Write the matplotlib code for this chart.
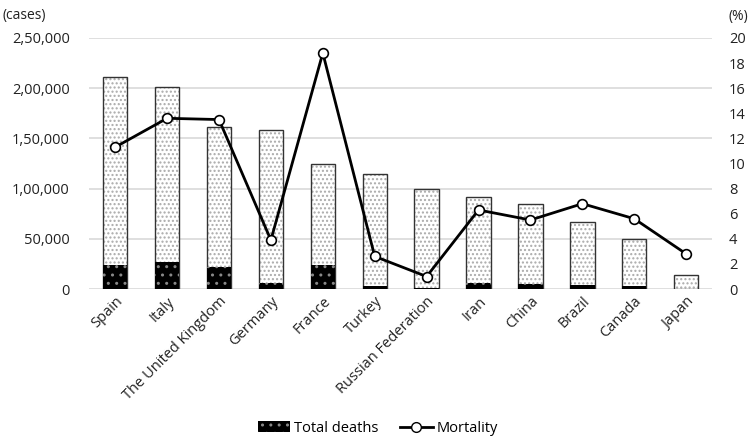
import numpy as np
import matplotlib.pyplot as plt
from matplotlib.ticker import FuncFormatter
from matplotlib.lines import Line2D
from matplotlib.patches import Patch

plt.rcParams["font.family"] = ["Open Sans", "DejaVu Sans"]

countries = ["Spain", "Italy", "The United Kingdom", "Germany", "France", "Turkey",
             "Russian Federation", "Iran", "China", "Brazil", "Canada", "Japan"]
total_cases = [211000, 201500, 161100, 158000, 125000, 115000,
               100000, 92000, 84400, 66600, 49800, 14000]
total_deaths = [24000, 27400, 21800, 6000, 24000, 3000,
                1000, 5900, 4600, 4500, 2700, 400]
mortality = [11.3, 13.6, 13.5, 3.9, 18.8, 2.6, 1.0, 6.3, 5.5, 6.8, 5.6, 2.8]


def indian_fmt(v, pos):
    # lakh-style grouping: 2,50,000
    v = int(round(v))
    if v == 0:
        return "0"
    s = str(v)
    last3 = s[-3:]
    rest = s[:-3]
    parts = []
    while len(rest) > 2:
        parts.insert(0, rest[-2:])
        rest = rest[:-2]
    if rest:
        parts.insert(0, rest)
    return ",".join(parts + [last3])


fig = plt.figure(figsize=(7.56, 4.36), dpi=100, facecolor="white")
ax = fig.add_axes([0.118, 0.337, 0.824, 0.576])
x = np.arange(len(countries))
w = 0.47

plt.rcParams["hatch.linewidth"] = 1.0
ax.bar(x, total_cases, width=w, color="white", edgecolor="#aaaaaa", hatch="....",
       linewidth=0, zorder=2)
ax.bar(x, total_cases, width=w, color="none", edgecolor="#333333", linewidth=1.0, zorder=3)
ax.bar(x, total_deaths, width=w, color="black", edgecolor="#888888", hatch="..",
       linewidth=0, zorder=4)

ax.set_ylim(0, 250000)
ax.set_xlim(-0.5, len(countries) - 0.5)
ax.set_yticks(np.arange(0, 250001, 50000))
ax.yaxis.set_major_formatter(FuncFormatter(indian_fmt))
ax.grid(axis="y", color="#d9d9d9", linewidth=1.2, zorder=0)
ax.set_axisbelow(True)
for s in ax.spines.values():
    s.set_visible(False)
ax.tick_params(axis="both", length=0, labelsize=10.5, colors="#222222")
ax.tick_params(axis="y", pad=14)
ax.set_xticks(x)
ax.set_xticklabels(countries, rotation=45, ha="right", rotation_mode="anchor")

ax2 = ax.twinx()
ax2.plot(x, mortality, color="black", linewidth=2, marker="o", markersize=7,
         markerfacecolor="white", markeredgecolor="black", markeredgewidth=1.2, zorder=5)
ax2.set_ylim(0, 20)
ax2.set_yticks(np.arange(0, 21, 2))
for s in ax2.spines.values():
    s.set_visible(False)
ax2.tick_params(axis="y", length=0, labelsize=10.5, colors="#222222", pad=12)

fig.text(0.003, 0.965, "(cases)", fontsize=10, ha="left", va="center", color="#222222")
fig.text(0.963, 0.962, "(%)", fontsize=10, ha="left", va="center", color="#222222")

handles = [Patch(facecolor="black", edgecolor="#888888", hatch="..", linewidth=0),
           Line2D([0], [0], color="black", linewidth=2, marker="o", markersize=7,
                  markerfacecolor="white", markeredgecolor="black")]
fig.legend(handles, ["Total deaths", "Mortality"], loc="center", ncol=2,
           bbox_to_anchor=(0.5, 0.018), frameon=False, fontsize=10.5,
           handlelength=2.2, columnspacing=1.5, handletextpad=0.3)

fig.savefig("out.png", dpi=100, facecolor="white")
